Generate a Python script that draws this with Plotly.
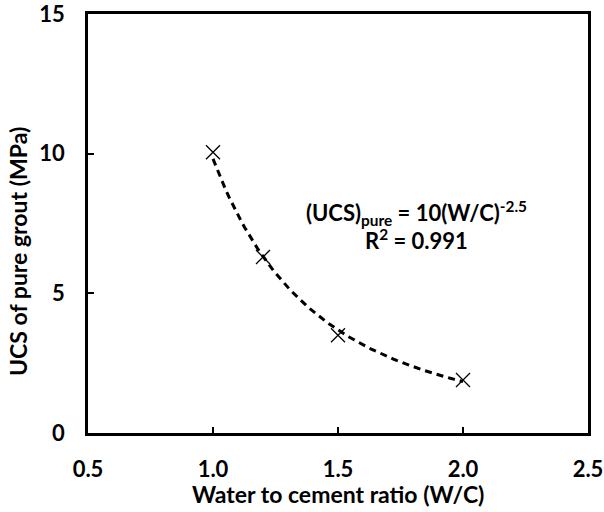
import numpy as np
import plotly.graph_objects as go

wc_ratio = [1.0, 1.2, 1.5, 2.0]
ucs_pure = [10.05, 6.3, 3.5, 1.9]
x_ticks = [0.5, 1.0, 1.5, 2.0, 2.5]
x_tick_labels = ["0.5", "1.0", "1.5", "2.0", "2.5"]
y_ticks = [0, 5, 10, 15]
y_tick_labels = ["0", "5", "10", "15"]
x_title = "Water to cement ratio (W/C)"
y_title = "UCS of pure grout (MPa)"
eq_line1 = "(UCS)<sub>pure</sub> = 10(W/C)<sup>-2.5</sup>"
eq_line2 = "R<sup>2</sup> = 0.991"

# Power-law trend line fitted to the data (as Excel does)
b, lna = np.polyfit(np.log(wc_ratio), np.log(ucs_pure), 1)
xf = np.linspace(min(wc_ratio), max(wc_ratio), 80)
yf = np.exp(lna) * xf ** b

FONT = "Lato"
fnt = dict(family=FONT, size=22, color="black", weight="bold")
tfnt = dict(family=FONT, size=23, color="black", weight="bold")

fig = go.Figure()
fig.add_trace(go.Scatter(x=xf, y=yf, mode="lines",
                         line=dict(color="black", width=3, dash="7px,5px"),
                         hoverinfo="skip", showlegend=False))
fig.add_trace(go.Scatter(x=wc_ratio, y=ucs_pure, mode="markers",
                         marker=dict(symbol="x-thin", size=14,
                                     line=dict(color="black", width=1.3)),
                         showlegend=False))

axis_common = dict(showgrid=False, zeroline=False, showline=True, linecolor="black",
                   linewidth=2.5, mirror=True, ticks="inside", ticklen=6, tickwidth=2,
                   tickcolor="black", automargin=False, tickfont=fnt,
                   ticklabeloverflow="allow")
fig.update_xaxes(range=[0.5, 2.5], tickvals=x_ticks, ticktext=x_tick_labels,
                 ticklabelstandoff=15, **axis_common)
fig.update_yaxes(range=[0, 15], tickvals=y_ticks, ticktext=y_tick_labels,
                 ticklabelstandoff=16, **axis_common)

fig.add_annotation(xref="paper", yref="paper", x=0.5, y=-0.145, text=x_title,
                   showarrow=False, xanchor="center", yanchor="middle", font=tfnt)
fig.add_annotation(xref="paper", yref="paper", x=-0.14, y=0.432, text=y_title,
                   textangle=-90, showarrow=False, xanchor="center", yanchor="middle", font=tfnt)

fig.add_annotation(xref="paper", yref="paper", x=0.656, y=0.525, text=eq_line1,
                   showarrow=False, xanchor="center", yanchor="middle", font=fnt)
fig.add_annotation(xref="paper", yref="paper", x=0.656, y=0.462, text=eq_line2,
                   showarrow=False, xanchor="center", yanchor="middle", font=fnt)

fig.update_layout(width=604, height=512, margin=dict(l=88, r=16, t=14, b=79),
                  plot_bgcolor="white", paper_bgcolor="white")
fig.write_html("out.html")
